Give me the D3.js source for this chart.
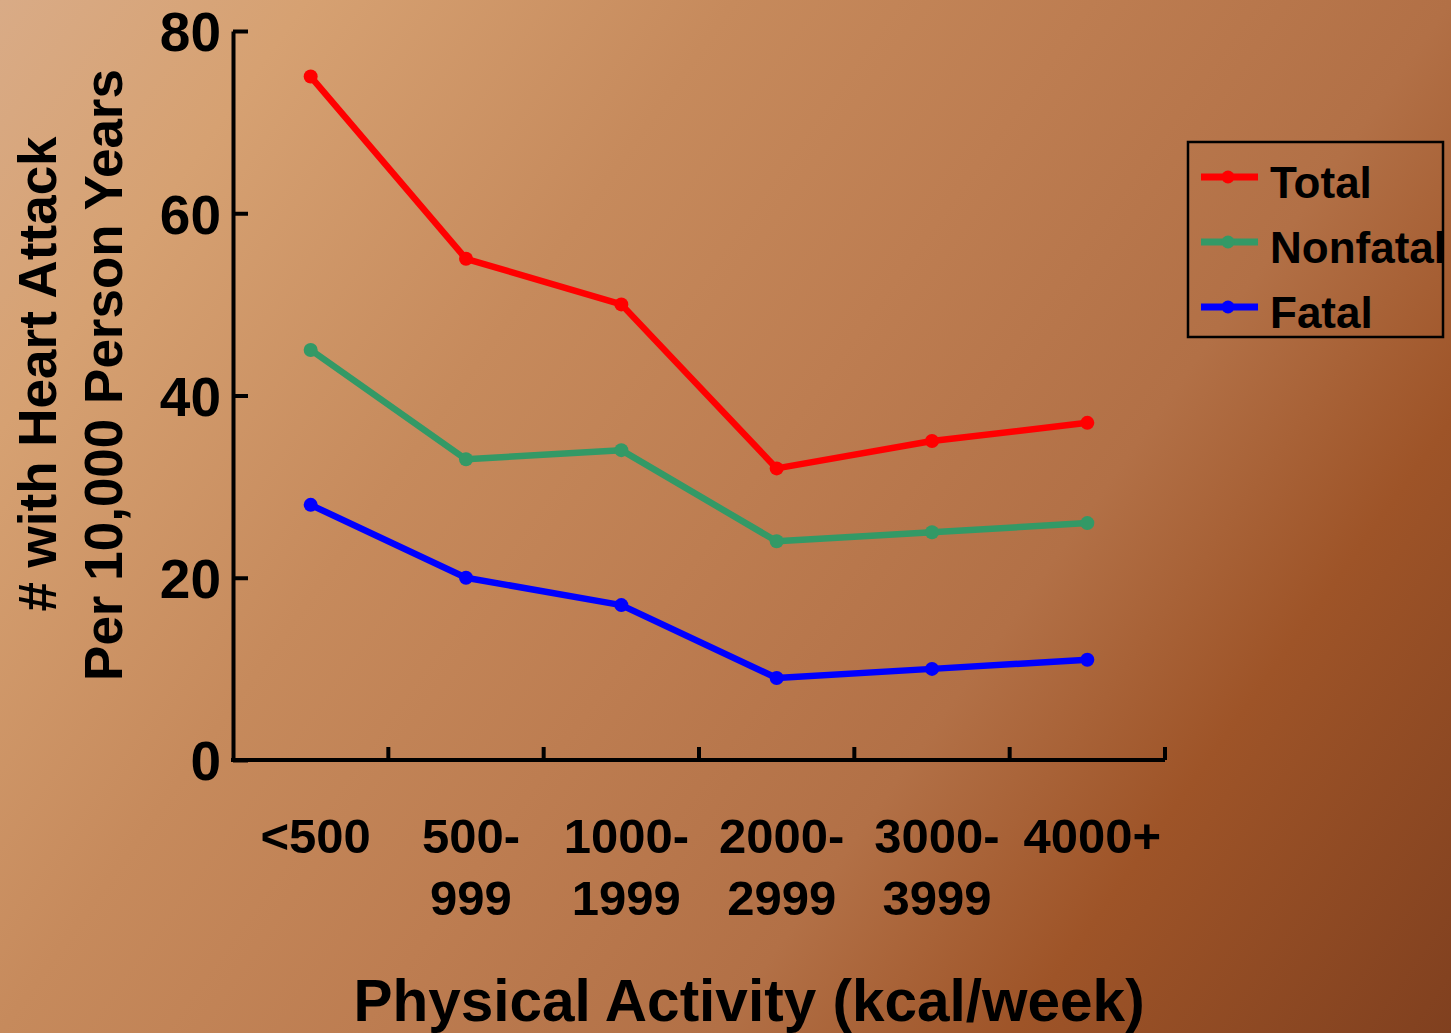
<!DOCTYPE html>
<html>
<head>
<meta charset="utf-8">
<script src="https://cdn.jsdelivr.net/npm/d3@7"></script>
<style>
  html, body { margin: 0; padding: 0; overflow: hidden; }
  svg text { font-family: "Liberation Sans", Arial, Helvetica, sans-serif; font-weight: bold; fill: #000; }
</style>
</head>
<body>
<script>
// Activity bands (kcal/week), split over two label lines
const categories = ["<500", "500-999", "1000-1999", "2000-2999", "3000-3999", "4000+"];
const categoryLines = [["<500"], ["500-", "999"], ["1000-", "1999"], ["2000-", "2999"], ["3000-", "3999"], ["4000+"]];

// Heart attacks per 10,000 person-years
const totalValues    = [75, 55, 50, 32, 35, 37];
const nonfatalValues = [45, 33, 34, 24, 25, 26];
const fatalValues    = [28, 20, 17, 9, 10, 11];

const seriesNames  = ["Total", "Nonfatal", "Fatal"];
const seriesColors = ["#ff0000", "#339966", "#0000ff"];
const yTicks = [0, 20, 40, 60, 80];

const W = 1451, H = 1033;
const margin = { left: 233, top: 31, right: 1165, bottom: 760 };

const svg = d3.select("body").append("svg")
  .attr("width", W).attr("height", H);

// Warm brown diagonal background
const defs = svg.append("defs");
const grad = defs.append("linearGradient")
  .attr("id", "bg").attr("gradientUnits", "userSpaceOnUse")
  .attr("x1", 0).attr("y1", 0).attr("x2", W).attr("y2", H);
[[0, "#d9ab86"], [0.14, "#d6a172"], [0.336, "#c68a5c"], [0.5, "#bd7d51"],
 [0.664, "#b27046"], [0.8, "#9e5428"], [1, "#80401f"]]
  .forEach(([o, c]) => grad.append("stop").attr("offset", o).attr("stop-color", c));
svg.append("rect").attr("width", W).attr("height", H).attr("fill", "url(#bg)");

const x = d3.scaleBand().domain(categories).range([margin.left, margin.right]).paddingInner(0).paddingOuter(0);
const y = d3.scaleLinear().domain([0, 80]).range([margin.bottom, margin.top]);

// Y axis with inward ticks
const yAxis = svg.append("g")
  .attr("transform", `translate(${margin.left},0)`)
  .call(d3.axisLeft(y).tickValues(yTicks).tickSize(-15).tickPadding(12).tickSizeOuter(0));
yAxis.select(".domain").attr("stroke", "#000").attr("stroke-width", 4);
yAxis.selectAll(".tick line").attr("stroke", "#000").attr("stroke-width", 4);
yAxis.selectAll(".tick text")
  .attr("font-size", 55).attr("dy", "0.36em")
  .style("font-family", '"Liberation Sans", Arial, sans-serif').style("font-weight", "bold");

// X axis: baseline plus inward ticks on band boundaries
const xAxis = svg.append("g").attr("transform", `translate(0,${margin.bottom})`);
xAxis.append("line")
  .attr("x1", margin.left - 2).attr("x2", margin.right)
  .attr("y1", 0).attr("y2", 0)
  .attr("stroke", "#000").attr("stroke-width", 4);
const boundaries = categories.map(c => x(c) + x.step());
xAxis.selectAll("line.tick").data(boundaries).join("line")
  .attr("class", "tick")
  .attr("x1", d => d).attr("x2", d => d)
  .attr("y1", 0).attr("y2", -13)
  .attr("stroke", "#000").attr("stroke-width", 4);

// Category labels
const labelG = svg.append("g");
categories.forEach((c, i) => {
  const t = labelG.append("text")
    .attr("x", x(c) + x.bandwidth() / 2 + 5)
    .attr("y", 853)
    .attr("text-anchor", "middle")
    .attr("font-size", 49);
  categoryLines[i].forEach((ln, j) => {
    t.append("tspan")
      .attr("x", x(c) + x.bandwidth() / 2 + 5)
      .attr("dy", j === 0 ? 0 : 62)
      .text(ln);
  });
});

// Axis titles
svg.append("text")
  .attr("x", 749).attr("y", 1021)
  .attr("text-anchor", "middle")
  .attr("font-size", 58.5)
  .text("Physical Activity (kcal/week)");

svg.append("text")
  .attr("transform", "translate(56,374) rotate(-90)")
  .attr("text-anchor", "middle")
  .attr("font-size", 53)
  .text("# with Heart Attack");
svg.append("text")
  .attr("transform", "translate(122,375) rotate(-90)")
  .attr("text-anchor", "middle")
  .attr("font-size", 53)
  .text("Per 10,000 Person Years");

// Series lines with markers
const seriesData = [totalValues, nonfatalValues, fatalValues];
const line = d3.line()
  .x((d, i) => x(categories[i]) + x.bandwidth() / 2)
  .y(d => y(d));

seriesData.forEach((vals, s) => {
  const g = svg.append("g");
  g.append("path")
    .attr("d", line(vals))
    .attr("fill", "none")
    .attr("stroke", seriesColors[s])
    .attr("stroke-width", 6.5)
    .attr("stroke-linejoin", "round");
  g.selectAll("circle").data(vals).join("circle")
    .attr("cx", (d, i) => x(categories[i]) + x.bandwidth() / 2)
    .attr("cy", d => y(d))
    .attr("r", 7)
    .attr("fill", seriesColors[s]);
});

// Legend
const legend = svg.append("g");
legend.append("rect")
  .attr("x", 1188).attr("y", 142).attr("width", 255).attr("height", 195)
  .attr("fill", "none").attr("stroke", "#000").attr("stroke-width", 2.5);
seriesNames.forEach((name, i) => {
  const ry = 177 + i * 65;
  legend.append("line")
    .attr("x1", 1201).attr("x2", 1258).attr("y1", ry).attr("y2", ry)
    .attr("stroke", seriesColors[i]).attr("stroke-width", 7);
  legend.append("circle")
    .attr("cx", 1228).attr("cy", ry).attr("r", 6.5)
    .attr("fill", seriesColors[i]);
  legend.append("text")
    .attr("x", 1270).attr("y", ry + 21)
    .attr("font-size", 44)
    .text(name);
});
</script>
</body>
</html>
